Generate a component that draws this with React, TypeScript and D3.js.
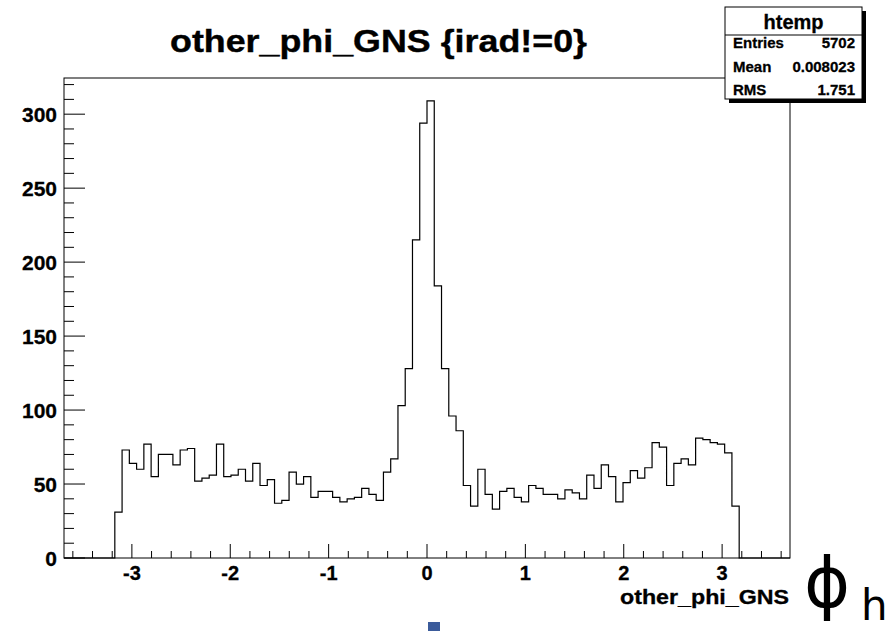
import React from "react";
import * as d3 from "d3";

// Histogram of other_phi_GNS for events with irad != 0 (100 bins)
const xLow = -3.69;
const xHigh = 3.69;
const counts = [
  0, 0, 0, 0, 0, 0, 0,
  31, 73, 64, 60, 77, 55, 70, 70, 63, 73, 74, 52, 54, 56, 77, 55, 56, 60, 52, 64, 49, 53, 37,
  39, 58, 50, 55, 41, 45, 45, 41, 38, 40, 41, 47, 43, 39, 58, 67,
  103, 128, 215, 294, 309, 184, 128, 96, 86, 49, 35, 60, 43,
  33, 45, 47, 41, 38, 49, 47, 43, 43, 40, 46, 44, 40, 56, 47, 63, 55, 38,
  51, 59, 54, 61, 78, 75, 49, 64, 67, 63, 81, 80, 78, 77, 71, 35,
  0, 0, 0, 0, 0, 0, 0,
];
const xTickValues = [-3, -2, -1, 0, 1, 2, 3];
const yTickValues = [0, 50, 100, 150, 200, 250, 300];

const histName = "htemp";
const statLabels = ["Entries", "Mean", "RMS"];
const statValues = ["5702", "0.008023", "1.751"];

const titleText = "other_phi_GNS {irad!=0}";
const xTitleText = "other_phi_GNS";

const FONT = "'Liberation Sans', Arial, Helvetica, sans-serif";

export default function App() {
  const W = 895;
  const H = 631;
  const fl = 64, fr = 790, ft = 78, fb = 558;

  const yMax = d3.max(counts)! * 1.05;
  const x = d3.scaleLinear().domain([xLow, xHigh]).range([fl, fr]);
  const y = d3.scaleLinear().domain([0, yMax]).range([fb, ft]);

  const nb = counts.length;
  const bw = (xHigh - xLow) / nb;

  // step outline of the histogram
  const pts: [number, number][] = [[xLow, 0]];
  counts.forEach((c, i) => {
    pts.push([xLow + i * bw, c]);
    pts.push([xLow + (i + 1) * bw, c]);
  });
  pts.push([xHigh, 0]);
  const line = d3
    .line<[number, number]>()
    .x((d) => x(d[0]))
    .y((d) => y(d[1]));

  // minor ticks
  const xMinor = d3.range(-18, 19).map((k) => k * 0.2).filter((v) => v >= xLow && v <= xHigh);
  const yMinor = d3.range(0, Math.floor(yMax / 10) + 1).map((k) => k * 10);

  const bx = 725, by = 7, bwid = 137, bht = 92;

  return (
    <svg width={W} height={H} style={{ position: "absolute", left: 0, top: 0, background: "#fff" }}>
      <rect x={0} y={0} width={W} height={H} fill="#fff" />
      {/* title */}
      <text x={378.5} y={52} textAnchor="middle" fontFamily={FONT} fontWeight="bold" fontSize={32}
        textLength={417} lengthAdjust="spacingAndGlyphs" stroke="#000" strokeWidth={0.4}>{titleText}</text>

      {/* frame */}
      <rect x={fl} y={ft} width={fr - fl} height={fb - ft} fill="none" stroke="#000" strokeWidth={1} />

      {/* histogram */}
      <path d={line(pts)!} fill="none" stroke="#000" strokeWidth={1.2} />

      {/* y axis ticks */}
      {yMinor.map((v) => (
        <line key={"ym" + v} x1={fl} x2={fl + (v % 50 === 0 ? 21 : 10)} y1={y(v)} y2={y(v)} stroke="#000" strokeWidth={1} />
      ))}
      {yTickValues.map((v) => (
        <text key={"yl" + v} x={57} y={y(v) + 7.5} textAnchor="end" fontFamily={FONT} fontWeight="bold" fontSize={21}
          stroke="#000" strokeWidth={0.3}>{v}</text>
      ))}

      {/* x axis ticks */}
      {xMinor.map((v) => {
        const major = Math.abs(v - Math.round(v)) < 1e-6;
        return (
          <line key={"xm" + v.toFixed(1)} x1={x(v)} x2={x(v)} y1={fb} y2={fb - (major ? 14 : 7)} stroke="#000" strokeWidth={1} />
        );
      })}
      {xTickValues.map((v) => (
        <text key={"xl" + v} x={x(v)} y={580} textAnchor="middle" fontFamily={FONT} fontWeight="bold" fontSize={20}
          stroke="#000" strokeWidth={0.3}>{v < 0 ? "-" + Math.abs(v) : String(v)}</text>
      ))}

      {/* x axis title */}
      <text x={789} y={604} textAnchor="end" fontFamily={FONT} fontWeight="bold" fontSize={20}
        textLength={169} lengthAdjust="spacingAndGlyphs" stroke="#000" strokeWidth={0.3}>{xTitleText}</text>

      {/* stats box */}
      <rect x={bx + 4} y={by + 4} width={bwid} height={bht} fill="#000" />
      <rect x={bx} y={by} width={bwid} height={bht} fill="#fff" stroke="#000" strokeWidth={1} />
      <line x1={bx} x2={bx + bwid} y1={35} y2={35} stroke="#000" strokeWidth={1} />
      <text x={bx + bwid / 2} y={29} textAnchor="middle" fontFamily={FONT} fontWeight="bold" fontSize={20}
        stroke="#000" strokeWidth={0.3}>{histName}</text>
      {statLabels.map((lab, i) => (
        <g key={lab}>
          <text x={733} y={48 + i * 23.5} fontFamily={FONT} fontWeight="bold" fontSize={15}
            stroke="#000" strokeWidth={0.3}>{lab}</text>
          <text x={855} y={48 + i * 23.5} textAnchor="end" fontFamily={FONT} fontWeight="bold" fontSize={15}
            stroke="#000" strokeWidth={0.3}>{statValues[i]}</text>
        </g>
      ))}

      {/* variable symbol */}
      <text x={804} y={607} fontFamily="'DejaVu Sans', sans-serif" fontSize={70}>ϕ</text>
      <text x={861} y={620} fontFamily="'DejaVu Sans', sans-serif" fontSize={42}>h</text>

      <rect x={428} y={622} width={12} height={9} fill="#3b5b9b" />
    </svg>
  );
}
